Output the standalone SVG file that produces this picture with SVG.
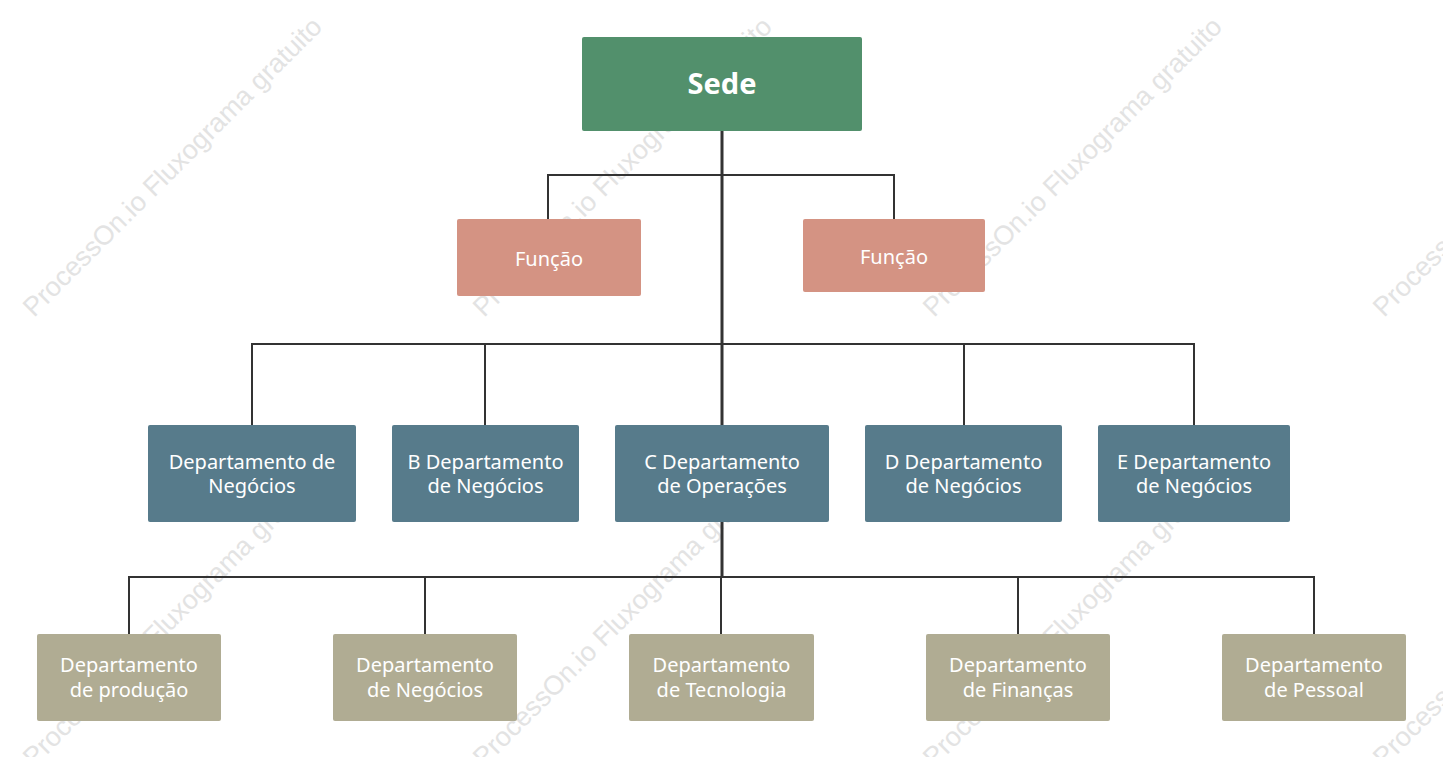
<svg xmlns="http://www.w3.org/2000/svg" width="1443" height="757" viewBox="0 0 1443 757">
<defs>
<style>
.wm{font-family:"Liberation Sans",Arial,sans-serif;font-size:27px;fill:#e3e3e3}
.lbl{font-family:"Noto Sans","Open Sans",sans-serif;font-size:20px;fill:#ffffff;text-anchor:middle}
.title{font-family:"Noto Sans","Open Sans",sans-serif;font-size:29px;font-weight:bold;fill:#ffffff;text-anchor:middle}
.hq{fill:#52906c}
.fn{fill:#d49383}
.dep{fill:#577b8b}
.sub{fill:#b0ac93}
.ln{stroke:#333333;stroke-width:2;fill:none}
.trunk{stroke:#333333;stroke-width:3;fill:none}
</style>
</defs>
<rect width="1443" height="757" fill="#ffffff"/>
<g id="watermark">
<text class="wm" transform="translate(34,318) rotate(-45)">ProcessOn.io Fluxograma gratuito</text>
<text class="wm" transform="translate(484,318) rotate(-45)">ProcessOn.io Fluxograma gratuito</text>
<text class="wm" transform="translate(934,318) rotate(-45)">ProcessOn.io Fluxograma gratuito</text>
<text class="wm" transform="translate(1384,318) rotate(-45)">ProcessOn.io Fluxograma gratuito</text>
<text class="wm" transform="translate(34,768) rotate(-45)">ProcessOn.io Fluxograma gratuito</text>
<text class="wm" transform="translate(484,768) rotate(-45)">ProcessOn.io Fluxograma gratuito</text>
<text class="wm" transform="translate(934,768) rotate(-45)">ProcessOn.io Fluxograma gratuito</text>
<text class="wm" transform="translate(1384,768) rotate(-45)">ProcessOn.io Fluxograma gratuito</text>
</g>
<g id="connectors">
<path class="trunk" d="M722,131 V577"/>
<path class="ln" d="M548,219 V175 H894 V219"/>
<path class="ln" d="M252,425 V344 H1194 V425"/>
<path class="ln" d="M485,344 V425"/>
<path class="ln" d="M964,344 V425"/>
<path class="ln" d="M129,634 V577 H1314 V634"/>
<path class="ln" d="M425,577 V634"/>
<path class="ln" d="M721,577 V634"/>
<path class="ln" d="M1018,577 V634"/>
</g>
<g id="sede">
<rect class="hq" x="582" y="37" width="280" height="94" rx="2"/>
<text class="title" x="722" y="94">Sede</text>
</g>
<g id="funcao1">
<rect class="fn" x="457" y="219" width="184" height="77" rx="2"/>
<text class="lbl" x="549" y="266">Função</text>
</g>
<g id="funcao2">
<rect class="fn" x="803" y="219" width="182" height="73" rx="2"/>
<text class="lbl" x="894" y="264">Função</text>
</g>
<g id="depA">
<rect class="dep" x="148" y="425" width="208" height="97" rx="2"/>
<text class="lbl" x="252" y="469">Departamento de</text>
<text class="lbl" x="252" y="493">Negócios</text>
</g>
<g id="depB">
<rect class="dep" x="392" y="425" width="187" height="97" rx="2"/>
<text class="lbl" x="485.5" y="469">B Departamento</text>
<text class="lbl" x="485.5" y="493">de Negócios</text>
</g>
<g id="depC">
<rect class="dep" x="615" y="425" width="214" height="97" rx="2"/>
<text class="lbl" x="722" y="469">C Departamento</text>
<text class="lbl" x="722" y="493">de Operações</text>
</g>
<g id="depD">
<rect class="dep" x="865" y="425" width="197" height="97" rx="2"/>
<text class="lbl" x="963.5" y="469">D Departamento</text>
<text class="lbl" x="963.5" y="493">de Negócios</text>
</g>
<g id="depE">
<rect class="dep" x="1098" y="425" width="192" height="97" rx="2"/>
<text class="lbl" x="1194" y="469">E Departamento</text>
<text class="lbl" x="1194" y="493">de Negócios</text>
</g>
<g id="subProducao">
<rect class="sub" x="37" y="634" width="184" height="87" rx="2"/>
<text class="lbl" x="129" y="672">Departamento</text>
<text class="lbl" x="129" y="697">de produção</text>
</g>
<g id="subNegocios">
<rect class="sub" x="333" y="634" width="184" height="87" rx="2"/>
<text class="lbl" x="425" y="672">Departamento</text>
<text class="lbl" x="425" y="697">de Negócios</text>
</g>
<g id="subTecnologia">
<rect class="sub" x="629" y="634" width="185" height="87" rx="2"/>
<text class="lbl" x="721.5" y="672">Departamento</text>
<text class="lbl" x="721.5" y="697">de Tecnologia</text>
</g>
<g id="subFinancas">
<rect class="sub" x="926" y="634" width="184" height="87" rx="2"/>
<text class="lbl" x="1018" y="672">Departamento</text>
<text class="lbl" x="1018" y="697">de Finanças</text>
</g>
<g id="subPessoal">
<rect class="sub" x="1222" y="634" width="184" height="87" rx="2"/>
<text class="lbl" x="1314" y="672">Departamento</text>
<text class="lbl" x="1314" y="697">de Pessoal</text>
</g>
</svg>
